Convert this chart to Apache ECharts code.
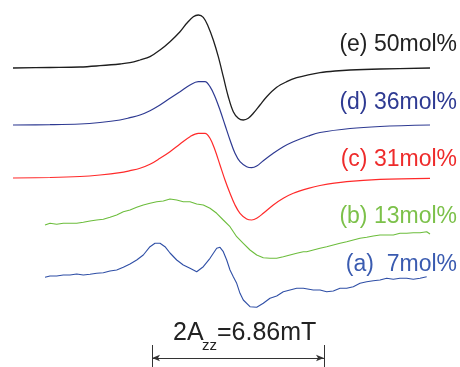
<!DOCTYPE html>
<html>
<head>
<meta charset="utf-8">
<script src="https://cdn.jsdelivr.net/npm/echarts@6/dist/echarts.min.js"></script>
<style>
html,body{margin:0;padding:0;background:#fff;}
#chart{width:460px;height:367px;}
</style>
</head>
<body>
<div id="chart"></div>
<script>
// Field positions (arbitrary field units, 1 mT ≈ 25.07 units) and derivative intensities (arb. units)
var fieldE = [13,50,80,100,120,130,140,150,160,170,180,186.7,193.3,198.3,203.3,208.3,213.3,218.3,223.3,228.3,233.3,238.3,243.3,248.3,253.3,260,266.7,276.7,286.7,296.7,308.3,320,335,350,380,430];
var intE   = [0,0.5,1,2.3,4,5.3,8,11.3,18,26.3,36.3,44.7,51.3,53,50.7,41.3,28,11.3,-8.7,-28.7,-43.7,-50.3,-52,-50.3,-45.3,-37,-28.7,-19.3,-13.7,-9.7,-6.8,-4.6,-3,-2,-1,0];

var fieldD = [13,50,80,100,120,130,140,150,160,170,180,190,198.3,205,210,215,220,225,230,235,240,246.7,251.7,256.7,263.3,273.3,283.3,293.3,308.3,320,350,380,430];
var intD   = [0,0.3,1,2.5,5,7.3,10,14.3,20,26.7,33.3,40,43.3,43.3,38.3,28.3,15,0,-15,-28.3,-36.7,-41.7,-42.7,-41,-35.7,-28.3,-21.7,-16.7,-11,-7.5,-3.5,-1.5,0];

var fieldC = [13,50,80,100,120,130,140,150,160,170,180,190,198.3,205,210,215,220,225,230,235,240,246.7,251.7,256.7,263.3,273.3,283.3,293.3,308.3,320,346.7,380,430];
var intC   = [0,0.5,1.5,3,5.3,7.3,9.7,13.7,19.7,26.3,34,41.3,44.7,44.7,39.7,28,13,-2,-15.3,-27,-35.3,-41,-42,-40.3,-35.3,-27,-20.3,-15.3,-10.3,-7.5,-3.7,-1.3,-0.3];

var fieldB = [45,50,56.7,63.3,70,76.7,83.3,90,96.7,103.3,110,116.7,123.3,130,136.7,143.3,150,156.7,163.3,170,176.7,183.3,190,196.7,203.3,210,216.7,223.3,230,236.7,243.3,250,256.7,263.3,270,276.7,283.3,290,296.7,303.3,306.7,313.3,320,326.7,333.3,340,346.7,353.3,360,366.7,373.3,380,386.7,393.3,400,406.7,413.3,420,426.7,430];
var intB   = [-1,0.7,-0.3,0.7,0.7,0.7,1.7,3,4,4.7,6.7,9,12.3,14,16.7,19,20.7,22.3,23,25,24,22.3,22.3,20,19,15.7,10.7,4,-2.7,-12.7,-19.3,-26,-31,-33.7,-34.3,-34.3,-32.7,-31,-29.3,-27.7,-27.7,-26,-24.3,-22.7,-21,-19.3,-17.7,-16,-14.3,-13.3,-12,-11,-11,-11,-9.3,-9.3,-8.7,-8.7,-7.7,-10];

var fieldA = [45,50,56.7,63.3,70,76.7,83.3,90,96.7,103.3,110,116.7,123.3,130,136.7,143.3,150,155,160,165,170,176.7,183.3,190,196.7,203.3,210,216.7,220,223.3,226.7,230,233.3,236.7,240,243.3,250,256.7,263.3,270,276.7,283.3,290,296.7,303.3,313.3,320,326.7,333.3,340,346.7,353.3,360,366.7,373.3,380,386.7,393.3,400,406.7,413.3,420,426.7];
var intA   = [-0.3,1,1,2,2,3,2,2.7,3.7,4.3,6,7,9.7,13,17,22,30.3,33.7,33.7,30.3,24,17,12,8.7,5.3,10.3,18.7,28.7,29.7,25.3,17,7,0.3,-6.3,-16.3,-23,-29.7,-30.3,-26.3,-21.3,-19,-14.7,-13,-11.3,-11.3,-13,-13,-14.7,-14,-11.3,-11.3,-9.7,-6.3,-4.7,-3.7,-3,-1.3,-2.3,-1.3,-1.3,-2.3,-1.3,0.3];

// vertical stacking offsets of each spectrum baseline
var offsets = {e: 299, d: 242, c: 189, b: 143, a: 90};
var labels = ['(e) 50mol%', '(d) 36mol%', '(c) 31mol%', '(b) 13mol%', '(a)  7mol%'];
var colors = ['#1e1e1e', '#2e3a92', '#ff2a2a', '#6cbd3c', '#2f4fa6'];
var labelColors = ['#222222', '#2e3a92', '#ee2b2b', '#7cc14a', '#3a5bb0'];

// hyperfine splitting annotation (field units)
var azzStart = 152, azzEnd = 324;  // 6.86 mT apart
var azzText = ['2A', 'zz', '=6.86mT'];

function build(f, v, off) {
  var out = [];
  for (var i = 0; i < f.length; i++) out.push([f[i], v[i] + off]);
  return out;
}

var chart = echarts.init(document.getElementById('chart'), null, {renderer: 'canvas'});

var sets = [
  [fieldE, intE, offsets.e, 1.3],
  [fieldD, intD, offsets.d, 1.2],
  [fieldC, intC, offsets.c, 1.2],
  [fieldB, intB, offsets.b, 1.1],
  [fieldA, intA, offsets.a, 1.1]
];

var series = sets.map(function (s, i) {
  return {
    type: 'line',
    data: build(s[0], s[1], s[2]),
    symbol: 'none',
    smooth: i < 3 ? 0.35 : false,
    lineStyle: {color: colors[i], width: s[3]},
    silent: true
  };
});

series.push({
  type: 'line',
  data: [],
  silent: true,
  markLine: {
    silent: true,
    symbol: 'none',
    label: {show: false},
    lineStyle: {color: '#333', width: 1, type: 'solid'},
    emphasis: {disabled: true},
    data: [
      [{coord: [azzStart, 9], symbol: 'arrow', symbolSize: [5, 8]}, {coord: [azzEnd, 9], symbol: 'arrow', symbolSize: [5, 8]}],
      [{coord: [azzStart, 0]}, {coord: [azzStart, 22]}],
      [{coord: [azzEnd, 0]}, {coord: [azzEnd, 22]}]
    ]
  }
});

var labelY = [45, 103, 160, 217, 265];
var graphics = labels.map(function (t, i) {
  return {
    type: 'text',
    x: 457, y: labelY[i],
    style: {
      text: t, fill: labelColors[i],
      font: '23px "Liberation Sans", Arial, sans-serif',
      textAlign: 'right', textVerticalAlign: 'middle'
    },
    silent: true
  };
});
graphics.push(
  {type: 'text', x: 173, y: 333, silent: true,
   style: {text: azzText[0], fill: '#222', font: '25px "Liberation Sans", Arial, sans-serif', textAlign: 'left', textVerticalAlign: 'middle'}},
  {type: 'text', x: 202, y: 346, silent: true,
   style: {text: azzText[1], fill: '#222', font: '15px "Liberation Sans", Arial, sans-serif', textAlign: 'left', textVerticalAlign: 'middle'}},
  {type: 'text', x: 217, y: 333, silent: true,
   style: {text: azzText[2], fill: '#222', font: '25px "Liberation Sans", Arial, sans-serif', textAlign: 'left', textVerticalAlign: 'middle'}}
);

chart.setOption({
  animation: false,
  backgroundColor: '#ffffff',
  grid: {left: 0, right: 0, top: 0, bottom: 0},
  xAxis: {type: 'value', min: 0, max: 460, show: false},
  yAxis: {type: 'value', min: 0, max: 367, show: false},
  series: series,
  graphic: graphics
});
</script>
</body>
</html>
